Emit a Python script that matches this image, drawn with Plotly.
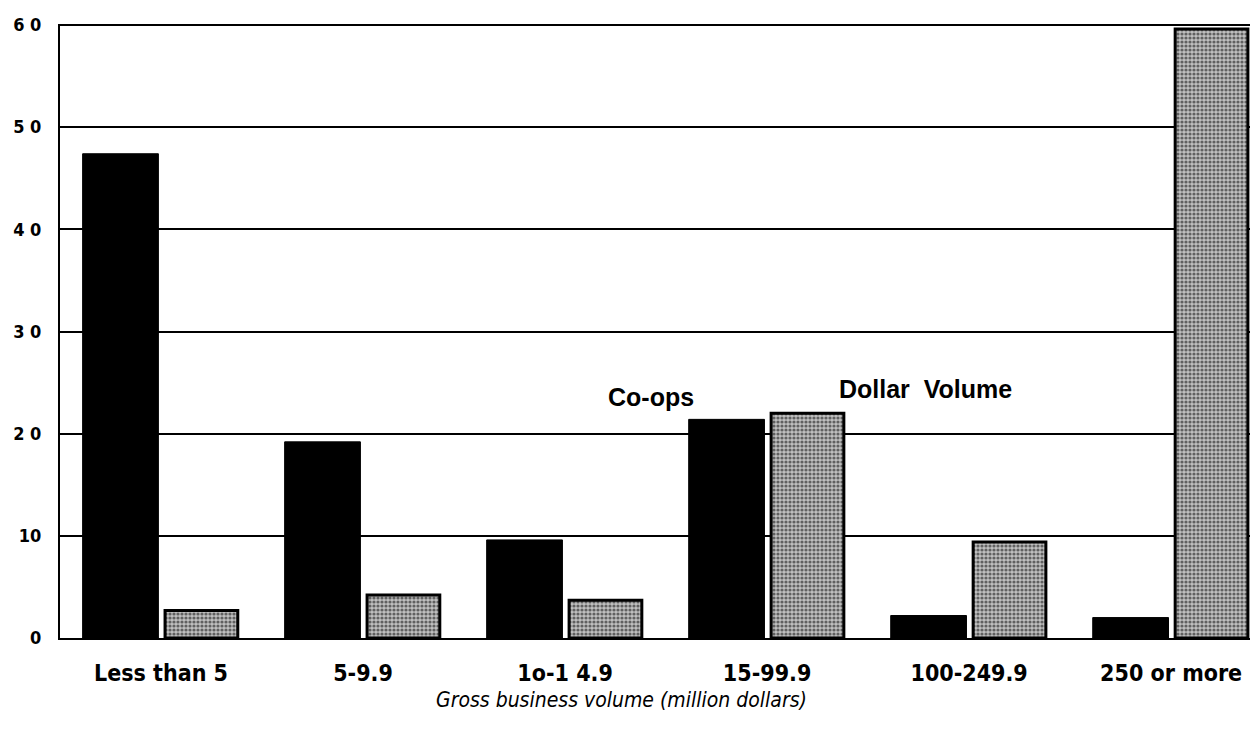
import plotly.graph_objects as go

categories = ['Less than 5', '5-9.9', '1o-1 4.9', '15-99.9', '100-249.9', '250 or more']
coops = [47.4, 19.2, 9.6, 21.4, 2.2, 2.0]
dollar_volume = [2.7, 4.2, 3.7, 22.0, 9.4, 59.6]
y_ticks = [0, 10, 20, 30, 40, 50, 60]
y_ticktext = ['0', '10', '2 0', '3 0', '4 0', '5 0', '6 0']

narrow = 'DejaVu Sans Condensed, Liberation Sans Narrow, Arial'

fig = go.Figure()

# Co-ops: solid black
fig.add_trace(go.Bar(
    name='Co-ops', x=categories, y=coops,
    width=0.375, offset=-0.388,
    marker=dict(color='black', line=dict(color='black', width=1)),
))

# Dollar volume: checkered grey with heavy outline
fig.add_trace(go.Bar(
    name='Dollar Volume', x=categories, y=dollar_volume,
    width=0.36, offset=0.02,
    marker=dict(
        color='#c0c0c0',
        line=dict(color='black', width=3),
        pattern=dict(shape='.', size=4, solidity=0.5, fgcolor='black', bgcolor='#c0c0c0'),
    ),
))

# Series labels placed above the 15-99.9 group
fig.add_annotation(x=3, y=23.6, xref='x', yref='y', text='<b>Co-ops</b>', showarrow=False,
                   xshift=-116, font=dict(family='Liberation Sans, Arial', size=25, color='black'))
fig.add_annotation(x=3, y=24.4, xref='x', yref='y', text='<b>Dollar  Volume</b>', showarrow=False,
                   xshift=158, font=dict(family='Liberation Sans, Arial', size=25, color='black'))

# Axis title (sits a bit left of the plot centre in the original)
fig.add_annotation(x=(621 - 60) / 1198, y=-(700 - 638) / 614, xref='paper', yref='paper',
                   xanchor='center', yanchor='middle',
                   text='Gross business volume (million dollars)', showarrow=False,
                   font=dict(family=narrow, size=21, color='black', style='italic'))

# page has an 8px body margin, so the figure is laid out 8px smaller
fig.update_layout(
    width=1250, height=723,
    margin=dict(l=52, r=0, t=16, b=93),
    plot_bgcolor='white', paper_bgcolor='white',
    showlegend=False,
    barmode='overlay',
    xaxis=dict(
        range=[-0.5, 5.43], automargin=False,
        showline=True, linecolor='black', linewidth=2,
        showgrid=False, ticks='',
        tickfont=dict(family=narrow, size=23, color='black', weight='bold'),
        ticklabelstandoff=13,
    ),
    yaxis=dict(
        range=[0, 60.1], automargin=False,
        tickvals=y_ticks, ticktext=y_ticktext,
        showline=True, linecolor='black', linewidth=2,
        showgrid=True, gridcolor='black', gridwidth=2,
        zeroline=False, ticks='',
        tickfont=dict(family=narrow, size=18, color='black', weight='bold'),
        ticklabelstandoff=13,
    ),
)

fig.write_html('out.html')
